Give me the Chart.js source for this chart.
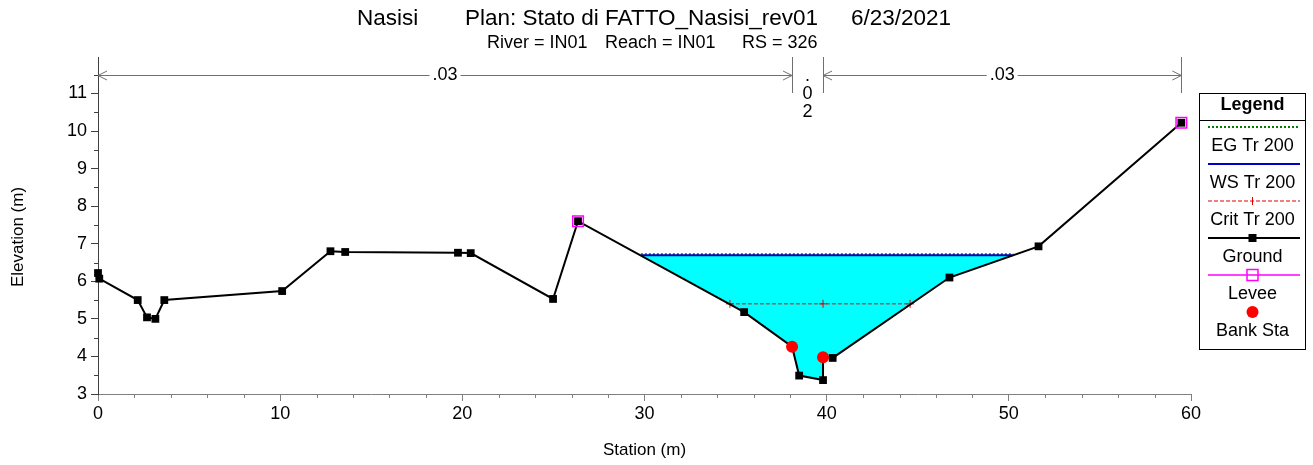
<!DOCTYPE html>
<html>
<head>
<meta charset="utf-8">
<script src="https://cdn.jsdelivr.net/npm/chart.js@4.4.1/dist/chart.umd.min.js"></script>
<style>
  html, body { margin: 0; padding: 0; background: #fff; }
</style>
</head>
<body>
<canvas id="xs" width="1313" height="465"></canvas>
<script>
// cross section data (station m, elevation m)
const groundSta  = [0, 0.07, 2.18, 2.69, 3.15, 3.64, 10.11, 12.76, 13.57, 19.76, 20.46, 24.98, 26.35, 35.47, 38.1, 38.49, 39.8, 39.8, 40.33, 46.74, 51.63, 59.47];
const groundElev = [6.22, 6.07, 5.5, 5.04, 5.0, 5.5, 5.74, 6.8, 6.78, 6.76, 6.75, 5.53, 7.6, 5.18, 4.26, 3.49, 3.37, 3.98, 3.96, 6.1, 6.93, 10.22];

const wsSta  = [29.85, 50.22];
const wsElev = [6.69, 6.69];
const egSta  = [29.8, 50.25];
const egElev = [6.72, 6.72];
const critSta  = [34.69, 39.8, 44.58];
const critElev = [5.4, 5.4, 5.4];
const leveeSta  = [26.35, 59.47];
const leveeElev = [7.6, 10.22];
const bankSta  = [38.1, 39.8];
const bankElev = [4.26, 3.98];

// manning n breaks
const nSta    = [0, 38.1, 39.8, 59.47];
const nValues = ['.03', '.02', '.03'];

const xTicks = [0, 10, 20, 30, 40, 50, 60];
const yTicks = [3, 4, 5, 6, 7, 8, 9, 10, 11];

const FONT = 'Arial, "Liberation Sans", sans-serif';

function pts(xs, ys) {
  return xs.map((x, i) => ({x: x, y: ys[i]}));
}

// water polygon: surface edges + ground points under the surface
function waterShape() {
  let out = [{x: wsSta[0], y: wsElev[0]}];
  groundSta.forEach((s, i) => {
    if (s > wsSta[0] && s < wsSta[1]) out.push({x: s, y: groundElev[i]});
  });
  out.push({x: wsSta[1], y: wsElev[1]});
  return out;
}

const extras = {
  id: 'extras',
  beforeDatasetsDraw(chart) {
    const {ctx, scales: {x}} = chart;
    const yLine = 75;
    ctx.save();
    ctx.strokeStyle = '#707070';
    ctx.fillStyle = '#000';
    ctx.lineWidth = 1;
    ctx.font = '18px ' + FONT;
    ctx.textAlign = 'center';
    ctx.textBaseline = 'middle';
    function seg(a, b) {
      ctx.beginPath(); ctx.moveTo(a, yLine + 0.5); ctx.lineTo(b, yLine + 0.5); ctx.stroke();
    }
    function arrow(px, dir) {
      ctx.beginPath();
      ctx.moveTo(px - dir * 9, yLine - 4); ctx.lineTo(px, yLine + 0.5); ctx.lineTo(px - dir * 9, yLine + 5);
      ctx.stroke();
    }
    for (let i = 0; i < nValues.length; i++) {
      const a = x.getPixelForValue(nSta[i]);
      const b = x.getPixelForValue(nSta[i + 1]);
      const mid = (a + b) / 2;
      const w = ctx.measureText(nValues[i]).width;
      if (b - a > w + 20) {
        seg(a, mid - w / 2 - 3);
        seg(mid + w / 2 + 3, b);
        arrow(a, -1);
        arrow(b, 1);
        ctx.fillText(nValues[i], mid, yLine);
      } else {
        nValues[i].split('').forEach((c, k) => ctx.fillText(c, mid, 76 + 18 * k));
      }
    }
    for (let i = 1; i < nSta.length; i++) {
      const px = Math.round(x.getPixelForValue(nSta[i])) + 0.5;
      ctx.beginPath(); ctx.moveTo(px, 57); ctx.lineTo(px, 93); ctx.stroke();
    }
    ctx.restore();
  },
  afterDraw(chart) {
    const {ctx, scales: {x, y}, chartArea} = chart;
    const midX = (chartArea.left + chartArea.right) / 2;
    ctx.save();
    // minor ticks
    ctx.lineWidth = 1;
    ctx.strokeStyle = '#808080';
    for (let v = 2; v < 60; v += 2) {
      if (v % 10 === 0) continue;
      const px = Math.round(x.getPixelForValue(v)) + 0.5;
      ctx.beginPath(); ctx.moveTo(px, x.top); ctx.lineTo(px, x.top + 4); ctx.stroke();
    }
    ctx.strokeStyle = '#404040';
    for (let v = 3.5; v < 11.9; v += 1) {
      const py = Math.round(y.getPixelForValue(v)) + 0.5;
      ctx.beginPath(); ctx.moveTo(y.right - 4, py); ctx.lineTo(y.right, py); ctx.stroke();
    }

    // titles
    ctx.fillStyle = '#000';
    ctx.textBaseline = 'middle';
    ctx.font = '22.5px ' + FONT;
    ctx.textAlign = 'left';
    ctx.fillText('Nasisi', 357, 18.5);
    ctx.fillText('Plan: Stato di FATTO_Nasisi_rev01', 465, 18.5);
    ctx.fillText('6/23/2021', 851, 18.5);
    ctx.font = '18px ' + FONT;
    ctx.fillText('River = IN01', 487, 43);
    ctx.fillText('Reach = IN01', 605, 43);
    ctx.fillText('RS = 326', 742, 43);
    ctx.textAlign = 'center';
    ctx.font = '17px ' + FONT;
    ctx.fillText('Station (m)', midX, 450);
    ctx.save();
    ctx.translate(18, 237);
    ctx.rotate(-Math.PI / 2);
    ctx.fillText('Elevation (m)', 0, 0);
    ctx.restore();

    // legend box
    const L = 1199.5, R = 1305.5, T = 93.5, B = 349.5, cx = (L + R) / 2;
    ctx.strokeStyle = '#000';
    ctx.lineWidth = 1;
    ctx.strokeRect(L, T, R - L, B - T);
    ctx.beginPath(); ctx.moveTo(L, 120.5); ctx.lineTo(R, 120.5); ctx.stroke();
    ctx.font = 'bold 18px ' + FONT;
    ctx.fillText('Legend', cx, 105);
    const items = [
      {label: 'EG Tr 200', color: '#008000', dash: [2, 2], width: 2},
      {label: 'WS Tr 200', color: '#0000c8', dash: [], width: 2},
      {label: 'Crit Tr 200', color: '#e00000', dash: [4, 2], width: 1, mark: 'cross'},
      {label: 'Ground', color: '#000', dash: [], width: 2, mark: 'square'},
      {label: 'Levee', color: '#ff00ff', dash: [], width: 1.5, mark: 'open'},
      {label: 'Bank Sta', color: '#ff0000', mark: 'dot'}
    ];
    ctx.font = '18px ' + FONT;
    items.forEach((it, i) => {
      const ly = 127 + 37 * i;
      if (it.mark !== 'dot') {
        ctx.save();
        ctx.strokeStyle = it.color;
        ctx.lineWidth = it.width;
        ctx.setLineDash(it.dash);
        ctx.beginPath(); ctx.moveTo(1208, ly); ctx.lineTo(1300, ly); ctx.stroke();
        ctx.restore();
      }
      if (it.mark === 'cross') {
        ctx.strokeStyle = it.color; ctx.lineWidth = 1;
        ctx.beginPath(); ctx.moveTo(cx, ly - 4); ctx.lineTo(cx, ly + 4); ctx.stroke();
      } else if (it.mark === 'square') {
        ctx.fillStyle = '#000'; ctx.fillRect(cx - 4, ly - 4, 8, 8);
      } else if (it.mark === 'open') {
        ctx.strokeStyle = it.color; ctx.lineWidth = 1.5; ctx.strokeRect(cx - 5.5, ly - 5.5, 11, 11);
      } else if (it.mark === 'dot') {
        ctx.fillStyle = it.color;
        ctx.beginPath(); ctx.arc(cx, ly, 6, 0, Math.PI * 2); ctx.fill();
      }
      ctx.fillStyle = '#000';
      ctx.fillText(it.label, cx, ly + 19);
    });
    ctx.restore();
  }
};

new Chart(document.getElementById('xs'), {
  type: 'line',
  data: {
    datasets: [
      {label: 'Bank Sta', data: pts(bankSta, bankElev), showLine: false, pointStyle: 'circle', pointRadius: 6, pointBackgroundColor: '#ff0000', pointBorderWidth: 0, clip: false, order: 0},
      {label: 'Levee', data: pts(leveeSta, leveeElev), showLine: false, pointStyle: 'rect', pointRadius: 7.5, pointBackgroundColor: 'rgba(0,0,0,0)', pointBorderColor: '#ff00ff', pointBorderWidth: 1.5, clip: false, order: 1},
      {label: 'Ground', data: pts(groundSta, groundElev), borderColor: '#000', borderWidth: 2, pointStyle: 'rect', pointRadius: 5.5, pointBackgroundColor: '#000', pointBorderWidth: 0, tension: 0, clip: false, order: 2},
      {label: 'Crit Tr 200', data: pts(critSta, critElev), borderColor: '#e00000', borderWidth: 1, borderDash: [4, 2], pointStyle: 'crossRot', rotation: 45, pointRadius: 4, pointBorderColor: '#e00000', pointBorderWidth: 1, order: 3},
      {label: 'WS Tr 200', data: pts(wsSta, wsElev), borderColor: '#0000c8', borderWidth: 2, pointRadius: 0, order: 4},
      {label: 'EG Tr 200', data: pts(egSta, egElev), borderColor: '#008000', borderWidth: 2, borderDash: [2, 2], pointRadius: 0, order: 5},
      {label: 'water', data: waterShape(), borderColor: 'rgba(0,0,0,0)', borderWidth: 1, backgroundColor: '#00ffff', fill: 'shape', pointRadius: 0, order: 6}
    ]
  },
  options: {
    responsive: false,
    devicePixelRatio: 1,
    animation: false,
    layout: {padding: {left: 0, right: 122, top: 57, bottom: 0}},
    plugins: {legend: {display: false}, tooltip: {enabled: false}, title: {display: false}},
    scales: {
      x: {
        type: 'linear', min: 0, max: 60,
        afterBuildTicks: s => { s.ticks = xTicks.map(v => ({value: v})); },
        afterFit: s => { s.height = 71; },
        ticks: {font: {size: 18, family: FONT}, color: '#000', padding: 2, maxRotation: 0, autoSkip: false},
        grid: {drawOnChartArea: false, tickLength: 7, tickColor: '#808080'},
        border: {color: '#808080', width: 1}
      },
      y: {
        type: 'linear', min: 3, max: 11.97,
        afterBuildTicks: s => { s.ticks = yTicks.map(v => ({value: v})); },
        afterFit: s => { s.width = 98; },
        ticks: {font: {size: 18, family: FONT}, color: '#000', padding: 4},
        grid: {drawOnChartArea: false, tickLength: 7, tickColor: '#404040'},
        border: {color: '#404040', width: 1}
      }
    }
  },
  plugins: [extras]
});
</script>
</body>
</html>
